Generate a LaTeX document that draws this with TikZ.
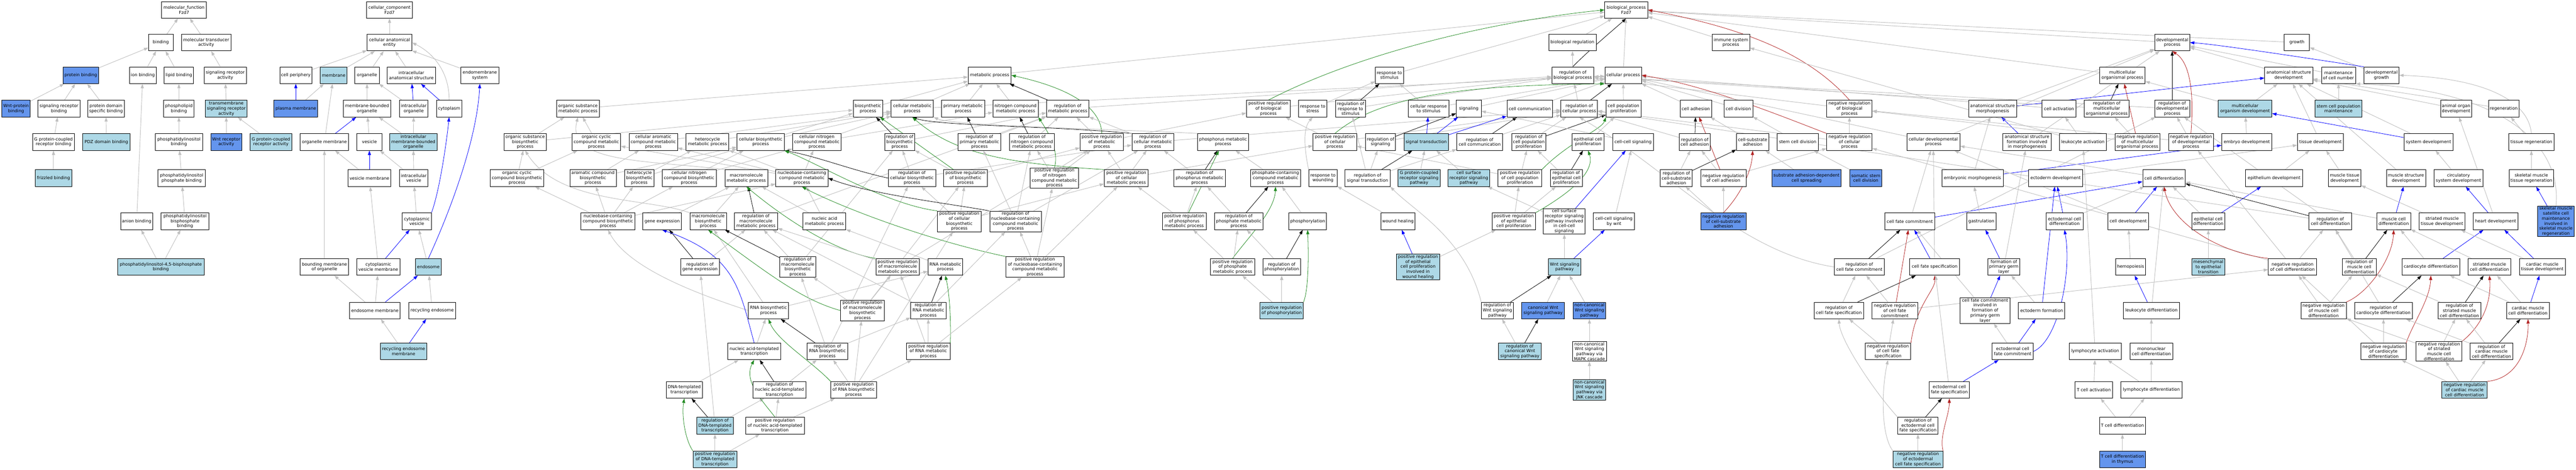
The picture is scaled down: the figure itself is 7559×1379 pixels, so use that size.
\documentclass[tikz,border=0pt]{standalone}
\usepackage{fontspec}
\setmainfont{DejaVu Sans}
\usetikzlibrary{arrows.meta,backgrounds}
\definecolor{lbc}{RGB}{173,216,230}
\definecolor{cbc}{RGB}{100,149,237}
\definecolor{egc}{RGB}{192,192,192}
\definecolor{ebc}{RGB}{0,0,255}
\definecolor{egrc}{RGB}{34,139,34}
\definecolor{erc}{RGB}{178,34,34}
\tikzset{
 wb/.style={draw=black,line width=1.2pt,fill=white,rectangle,align=center,minimum height=49pt,inner xsep=1pt,inner ysep=2pt,font=\fontsize{12.6}{14.7}\selectfont},
 lbb/.style={wb,fill=lbc},
 cbb/.style={wb,fill=cbc},
 edg/.style={line width=1.4pt,-{Triangle[length=13pt,width=9pt]}},
 sgray/.style={edg,color=egc},
 sblue/.style={edg,line width=1.2pt,color=ebc},
 sblack/.style={edg,line width=1.2pt,color=black},
 sgreen/.style={edg,line width=1.2pt,color=egrc},
 sred/.style={edg,line width=1.2pt,color=erc}
}
\newcommand{\nd}[6]{\node[#1,minimum width=#5pt] (#2) at (#3,#4) {#6};}
\newcommand{\eG}[2]{\draw[sgray] (#1) -- (#2);}
\newcommand{\eB}[2]{\draw[sblue] (#1) -- (#2);}
\newcommand{\eK}[2]{\draw[sblack] (#1) -- (#2);}
\newcommand{\eP}[2]{\draw[sgreen] (#1) -- (#2);}
\newcommand{\eN}[2]{\draw[sred] (#1) -- (#2);}
\begin{document}
\begin{tikzpicture}[x=1pt,y=-1pt]
\useasboundingbox (0,0) rectangle (7559,1379);
% ---------- molecular function
\nd{wb}{mf}{540}{29}{131}{molecular\_function\\Fzd7}
\nd{wb}{bind}{472}{125}{72}{binding}
\nd{wb}{mta}{605}{125}{145}{molecular transducer\\activity}
\nd{cbb}{pb}{237}{221}{104}{protein binding}
\nd{wb}{ionb}{419}{221}{79}{ion binding}
\nd{wb}{lipb}{525}{221}{86}{lipid binding}
\nd{wb}{sra}{661}{221}{123}{signaling receptor\\activity}
\nd{cbb}{wpb}{47}{319}{83}{Wnt-protein\\binding}
\nd{wb}{srb}{173}{319}{123}{signaling receptor\\binding}
\nd{wb}{pdsb}{311}{319}{107}{protein domain\\specific binding}
\nd{wb}{plb}{525}{319}{89}{phospholipid\\binding}
\nd{lbb}{tsra}{664}{319}{122}{transmembrane\\signaling receptor\\activity}
\nd{wb}{gpcrb}{157}{417}{123}{G protein-coupled\\receptor binding}
\nd{lbb}{pdz}{312}{417}{138}{PDZ domain binding}
\nd{wb}{pib}{525}{417}{139}{phosphatidylinositol\\binding}
\nd{cbb}{wra}{664}{417}{91}{Wnt receptor\\activity}
\nd{lbb}{gpcra}{795}{417}{123}{G protein-coupled\\receptor activity}
\nd{lbb}{fzb}{157}{523}{107}{frizzled binding}
\nd{wb}{pipb}{533}{523}{139}{phosphatidylinositol\\phosphate binding}
\nd{wb}{anb}{401}{650}{94}{anion binding}
\nd{wb}{pip2b}{543}{650}{140}{phosphatidylinositol\\bisphosphate\\binding}
\nd{lbb}{pi45}{472}{784}{254}{phosphatidylinositol-4,5-bisphosphate\\binding}
% ---------- cellular component
\nd{wb}{cc}{1143}{29}{134}{cellular\_component\\Fzd7}
\nd{wb}{cae}{1143}{125}{131}{cellular anatomical\\entity}
\nd{wb}{cper}{868}{221}{94}{cell periphery}
\nd{lbb}{memb}{979}{221}{78}{membrane}
\nd{wb}{org}{1077}{221}{72}{organelle}
\nd{wb}{ias}{1207}{221}{141}{intracellular\\anatomical structure}
\nd{wb}{ems}{1408}{221}{111}{endomembrane\\system}
\nd{cbb}{pm}{868}{319}{128}{plasma membrane}
\nd{wb}{mbo}{1077}{319}{139}{membrane-bounded\\organelle}
\nd{wb}{io}{1214}{319}{84}{intracellular\\organelle}
\nd{wb}{cyto}{1318}{319}{75}{cytoplasm}
\nd{wb}{om}{952}{417}{142}{organelle membrane}
\nd{wb}{ves}{1084}{417}{74}{vesicle}
\nd{lbb}{imbo}{1213}{417}{138}{intracellular\\membrane-bounded\\organelle}
\nd{wb}{vm}{1084}{523}{126}{vesicle membrane}
\nd{wb}{iv}{1214}{523}{84}{intracellular\\vesicle}
\nd{wb}{cv}{1223}{650}{85}{cytoplasmic\\vesicle}
\nd{wb}{bmo}{952}{784}{142}{bounding membrane\\of organelle}
\nd{wb}{cvm}{1110}{784}{127}{cytoplasmic\\vesicle membrane}
\nd{lbb}{endo}{1257}{784}{76}{endosome}
\nd{wb}{endom}{1100}{912}{148}{endosome membrane}
\nd{wb}{recend}{1268}{912}{137}{recycling endosome}
\nd{lbb}{recm}{1184}{1032}{136}{recycling endosome\\membrane}
% ---------- metabolism
\nd{wb}{osmp}{1696}{319}{126}{organic substance\\metabolic process}
\nd{wb}{biosyn}{2547}{319}{87}{biosynthetic\\process}
\nd{wb}{osbp}{1541}{417}{124}{organic substance\\biosynthetic\\process}
\nd{wb}{occmp}{1750}{417}{142}{organic cyclic\\compound metabolic\\process}
\nd{wb}{cacmp}{1917}{417}{142}{cellular aromatic\\compound metabolic\\process}
\nd{wb}{hmp}{2076}{417}{126}{heterocycle\\metabolic process}
\nd{wb}{cbp}{2232}{417}{139}{cellular biosynthetic\\process}
\nd{wb}{cncmp}{2397}{417}{142}{cellular nitrogen\\compound metabolic\\process}
\nd{wb}{occbp}{1517}{523}{158}{organic cyclic\\compound biosynthetic\\process}
\nd{wb}{acbp}{1740}{523}{136}{aromatic compound\\biosynthetic\\process}
\nd{wb}{hbp}{1876}{523}{86}{heterocycle\\biosynthetic\\process}
\nd{wb}{cncbp}{2022}{523}{159}{cellular nitrogen\\compound biosynthetic\\process}
\nd{wb}{mmp}{2190}{523}{125}{macromolecule\\metabolic process}
\nd{wb}{nccmp}{2353}{523}{153}{nucleobase-containing\\compound metabolic\\process}
\nd{wb}{nccbp}{1784}{650}{158}{nucleobase-containing\\compound biosynthetic\\process}
\nd{wb}{gexp}{1943}{650}{113}{gene expression}
\nd{wb}{mbp}{2078}{650}{107}{macromolecule\\biosynthetic\\process}
\nd{wb}{rmmp}{2218}{650}{127}{regulation of\\macromolecule\\metabolic process}
\nd{wb}{namp}{2419}{650}{126}{nucleic acid\\metabolic process}
\nd{wb}{rgexp}{2054}{784}{113}{regulation of\\gene expression}
\nd{wb}{rmbp}{2341}{784}{106}{regulation of\\macromolecule\\biosynthetic\\process}
\nd{wb}{rnabp}{2255}{912}{118}{RNA biosynthetic\\process}
\nd{wb}{prmbp}{2531}{912}{128}{positive regulation\\of macromolecule\\biosynthetic\\process}
\nd{wb}{natt}{2213}{1032}{155}{nucleic acid-templated\\transcription}
\nd{wb}{rrnabp}{2428}{1032}{119}{regulation of\\RNA biosynthetic\\process}
\nd{wb}{dtt}{2008}{1145}{106}{DNA-templated\\transcription}
\nd{wb}{rnatt}{2287}{1145}{155}{regulation of\\nucleic acid-templated\\transcription}
\nd{wb}{prrnabp}{2505}{1145}{134}{positive regulation\\of RNA biosynthetic\\process}
\nd{lbb}{rdtt}{2098}{1250}{107}{regulation of\\DNA-templated\\transcription}
\nd{wb}{pnatt}{2274}{1250}{172}{positive regulation\\of nucleic acid-templated\\transcription}
\nd{lbb}{pdtt}{2098}{1349}{129}{positive regulation\\of DNA-templated\\transcription}
\nd{wb}{mp}{2904}{221}{126}{metabolic process}
\nd{wb}{cmp}{2677}{319}{124}{cellular metabolic\\process}
\nd{wb}{pmp}{2826}{319}{127}{primary metabolic\\process}
\nd{wb}{ncmp}{2980}{319}{133}{nitrogen compound\\metabolic process}
\nd{wb}{rmp}{3133}{319}{124}{regulation of\\metabolic process}
\nd{wb}{prbp}{3722}{319}{128}{positive regulation\\of biological\\process}
\nd{wb}{rbiosyn}{2640}{417}{88}{regulation of\\biosynthetic\\process}
\nd{wb}{rpmp}{2874}{417}{126}{regulation of\\primary metabolic\\process}
\nd{wb}{rncmp}{3028}{417}{132}{regulation of\\nitrogen compound\\metabolic process}
\nd{wb}{prmp}{3233}{417}{127}{positive regulation\\of metabolic\\process}
\nd{wb}{rcmp}{3383}{417}{123}{regulation of\\cellular metabolic\\process}
\nd{wb}{phmp}{3589}{417}{150}{phosphorus metabolic\\process}
\nd{wb}{rcbp}{2676}{523}{139}{regulation of\\cellular biosynthetic\\process}
\nd{wb}{prbiosyn}{2833}{523}{128}{positive regulation\\of biosynthetic\\process}
\nd{wb}{prncmp}{3094}{523}{142}{positive regulation\\of nitrogen\\compound metabolic\\process}
\nd{wb}{prcmp}{3305}{523}{129}{positive regulation\\of cellular\\metabolic process}
\nd{wb}{rphmp}{3520}{523}{151}{regulation of\\phosphorus metabolic\\process}
\nd{wb}{pccmp}{3743}{523}{147}{phosphate-containing\\compound metabolic\\process}
\nd{wb}{prcbp}{2815}{650}{129}{positive regulation\\of cellular\\biosynthetic\\process}
\nd{wb}{rnccmp}{2980}{650}{152}{regulation of\\nucleobase-containing\\compound metabolic\\process}
\nd{wb}{prphmp}{3475}{650}{128}{positive regulation\\of phosphorus\\metabolic process}
\nd{wb}{rphtmp}{3635}{650}{143}{regulation of\\phosphate metabolic\\process}
\nd{wb}{prmmp}{2634}{784}{128}{positive regulation\\of macromolecule\\metabolic process}
\nd{wb}{rnamp}{2774}{784}{102}{RNA metabolic\\process}
\nd{wb}{prnccmp}{3037}{784}{171}{positive regulation\\of nucleobase-containing\\compound metabolic\\process}
\nd{wb}{prphtmp}{3617}{784}{129}{positive regulation\\of phosphate\\metabolic process}
\nd{wb}{rphos}{3761}{784}{110}{regulation of\\phosphorylation}
\nd{wb}{rrnamp}{2724}{912}{103}{regulation of\\RNA metabolic\\process}
\nd{lbb}{prphos}{3761}{912}{127}{positive regulation\\of phosphorylation}
\nd{wb}{prrnamp}{2724}{1032}{128}{positive regulation\\of RNA metabolic\\process}
% ---------- biological process
\nd{wb}{bp}{4772}{29}{126}{biological\_process\\Fzd7}
\nd{wb}{breg}{4614}{125}{139}{biological regulation}
\nd{wb}{isp}{5079}{125}{110}{immune system\\process}
\nd{wb}{dp}{6374}{125}{103}{developmental\\process}
\nd{wb}{growth}{6740}{125}{74}{growth}
\nd{wb}{rts}{4077}{221}{82}{response to\\stimulus}
\nd{wb}{rbp}{4615}{221}{123}{regulation of\\biological process}
\nd{wb}{cp}{4763}{221}{107}{cellular process}
\nd{wb}{mop}{6228}{221}{133}{multicellular\\organismal process}
\nd{wb}{asd}{6716}{221}{141}{anatomical structure\\development}
\nd{wb}{mcn}{6862}{221}{100}{maintenance\\of cell number}
\nd{wb}{devg}{6988}{221}{103}{developmental\\growth}
\nd{wb}{rtstress}{3852}{319}{82}{response to\\stress}
\nd{wb}{rrts}{3963}{319}{89}{regulation of\\response to\\stimulus}
\nd{wb}{crts}{4192}{319}{118}{cellular response\\to stimulus}
\nd{wb}{sig}{4310}{319}{73}{signaling}
\nd{wb}{ccomm}{4489}{319}{134}{cell communication}
\nd{wb}{rcp}{4634}{319}{107}{regulation of\\cellular process}
\nd{wb}{cpp}{4764}{319}{102}{cell population\\proliferation}
\nd{wb}{cadh}{4976}{319}{92}{cell adhesion}
\nd{wb}{cdiv}{5101}{319}{84}{cell division}
\nd{wb}{nrbp}{5427}{319}{133}{negative regulation\\of biological\\process}
\nd{wb}{asm}{5847}{319}{141}{anatomical structure\\morphogenesis}
\nd{wb}{cact}{6042}{319}{99}{cell activation}
\nd{wb}{rmop}{6182}{319}{132}{regulation of\\multicellular\\organismal process}
\nd{wb}{rdp}{6374}{319}{103}{regulation of\\developmental\\process}
\nd{lbb}{mod}{6588}{319}{157}{multicellular\\organism development}
\nd{lbb}{scpm}{6862}{319}{138}{stem cell population\\maintenance}
\nd{wb}{aod}{7207}{319}{91}{animal organ\\development}
\nd{wb}{regen}{7347}{319}{89}{regeneration}
\nd{wb}{prcp}{3917}{417}{128}{positive regulation\\of cellular\\process}
\nd{wb}{rsig}{4051}{417}{88}{regulation of\\signaling}
\nd{lbb}{st}{4185}{417}{130}{signal transduction}
\nd{wb}{rcc}{4342}{417}{134}{regulation of\\cell communication}
\nd{wb}{rcpp}{4486}{417}{101}{regulation of\\cell population\\proliferation}
\nd{wb}{ecp}{4660}{417}{94}{epithelial cell\\proliferation}
\nd{wb}{ccs}{4792}{417}{120}{cell-cell signaling}
\nd{wb}{rcadh}{4973}{417}{90}{regulation of\\cell adhesion}
\nd{wb}{csa}{5143}{417}{95}{cell-substrate\\adhesion}
\nd{wb}{scd}{5275}{417}{121}{stem cell division}
\nd{wb}{nrcp}{5427}{417}{133}{negative regulation\\of cellular\\process}
\nd{wb}{cdevp}{5673}{417}{156}{cellular developmental\\process}
\nd{wb}{asfm}{5948}{417}{141}{anatomical structure\\formation involved\\in morphogenesis}
\nd{wb}{lact}{6112}{417}{138}{leukocyte activation}
\nd{wb}{nrmop}{6272}{417}{132}{negative regulation\\of multicellular\\organismal process}
\nd{wb}{nrdp}{6429}{417}{132}{negative regulation\\of developmental\\process}
\nd{wb}{embd}{6593}{417}{147}{embryo development}
\nd{wb}{tisd}{6809}{417}{135}{tissue development}
\nd{wb}{sysd}{7126}{417}{144}{system development}
\nd{wb}{tisr}{7428}{417}{132}{tissue regeneration}
\nd{wb}{rtw}{3882}{523}{83}{response to\\wounding}
\nd{wb}{rst}{4013}{523}{132}{regulation of\\signal transduction}
\nd{lbb}{gpcrsp}{4164}{523}{123}{G protein-coupled\\receptor signaling\\pathway}
\nd{lbb}{csrsp}{4310}{523}{123}{cell surface\\receptor signaling\\pathway}
\nd{wb}{prcpp}{4460}{523}{128}{positive regulation\\of cell population\\proliferation}
\nd{wb}{recp}{4596}{523}{94}{regulation of\\epithelial cell\\proliferation}
\nd{wb}{rcsa}{4919}{523}{94}{regulation of\\cell-substrate\\adhesion}
\nd{wb}{nrcadh}{5057}{523}{133}{negative regulation\\of cell adhesion}
\nd{cbb}{sadcs}{5301}{523}{203}{substrate adhesion-dependent\\cell spreading}
\nd{cbb}{sscd}{5475}{523}{93}{somatic stem\\cell division}
\nd{wb}{embm}{5788}{523}{180}{embryonic morphogenesis}
\nd{wb}{ectd}{6032}{523}{159}{ectoderm development}
\nd{wb}{cdiff}{6350}{523}{125}{cell differentiation}
\nd{wb}{epid}{6673}{523}{167}{epithelium development}
\nd{wb}{mtd}{6880}{523}{96}{muscle tissue\\development}
\nd{wb}{msd}{7060}{523}{115}{muscle structure\\development}
\nd{wb}{csd}{7214}{523}{144}{circulatory\\system development}
\nd{wb}{smtr}{7428}{523}{131}{skeletal muscle\\tissue regeneration}
\nd{wb}{phos}{3837}{650}{111}{phosphorylation}
\nd{wb}{wh}{4102}{650}{101}{wound healing}
\nd{wb}{prepc}{4442}{650}{126}{positive regulation\\of epithelial\\cell proliferation}
\nd{wb}{csrspccs}{4590}{650}{123}{cell surface\\receptor signaling\\pathway involved\\in cell-cell\\signaling}
\nd{wb}{ccsw}{4736}{650}{121}{cell-cell signaling\\by wnt}
\nd{cbb}{nrcsa}{5057}{650}{133}{negative regulation\\of cell-substrate\\adhesion}
\nd{wb}{cfc}{5604}{650}{146}{cell fate commitment}
\nd{wb}{gast}{5814}{650}{85}{gastrulation}
\nd{wb}{ectcd}{6058}{650}{108}{ectodermal cell\\differentiation}
\nd{wb}{cdev}{6245}{650}{118}{cell development}
\nd{wb}{epcd}{6480}{650}{98}{epithelial cell\\differentiation}
\nd{wb}{rcd}{6838}{650}{125}{regulation of\\cell differentiation}
\nd{wb}{mcd}{7024}{650}{99}{muscle cell\\differentiation}
\nd{wb}{smtd}{7166}{650}{134}{striated muscle\\tissue development}
\nd{wb}{heart}{7323}{650}{131}{heart development}
\nd{cbb}{smsc}{7500}{650}{108}{skeletal muscle\\satellite cell\\maintenance\\involved in\\skeletal muscle\\regeneration}
\nd{lbb}{prepcwh}{4161}{784}{127}{positive regulation\\of epithelial\\cell proliferation\\involved in\\wound healing}
\nd{lbb}{wsp}{4591}{784}{94}{Wnt signaling\\pathway}
\nd{wb}{rcfc}{5456}{784}{147}{regulation of\\cell fate commitment}
\nd{wb}{cfs}{5677}{784}{146}{cell fate specification}
\nd{wb}{fpgl}{5880}{784}{94}{formation of\\primary germ\\layer}
\nd{wb}{hemo}{6252}{784}{88}{hemopoiesis}
\nd{lbb}{met}{6480}{784}{98}{mesenchymal\\to epithelial\\transition}
\nd{wb}{nrcd}{6727}{784}{142}{negative regulation\\of cell differentiation}
\nd{wb}{rmcd}{6923}{784}{100}{regulation of\\muscle cell\\differentiation}
\nd{wb}{cardd}{7133}{784}{170}{cardiocyte differentiation}
\nd{wb}{smcd}{7305}{784}{126}{striated muscle\\cell differentiation}
\nd{wb}{cmtd}{7460}{784}{135}{cardiac muscle\\tissue development}
\nd{wb}{rwsp}{4394}{912}{94}{regulation of\\Wnt signaling\\pathway}
\nd{cbb}{cwsp}{4528}{912}{125}{canonical Wnt\\signaling pathway}
\nd{cbb}{ncwsp}{4664}{912}{96}{non-canonical\\Wnt signaling\\pathway}
\nd{wb}{rcfs}{5396}{912}{144}{regulation of\\cell fate specification}
\nd{wb}{nrcfc}{5560}{912}{134}{negative regulation\\of cell fate\\commitment}
\nd{wb}{cfcpgl}{5825}{912}{147}{cell fate commitment\\involved in\\formation of\\primary germ\\layer}
\nd{wb}{ectf}{5991}{912}{136}{ectoderm formation}
\nd{wb}{leukd}{6313}{912}{166}{leukocyte differentiation}
\nd{wb}{nrmcd}{6818}{912}{133}{negative regulation\\of muscle cell\\differentiation}
\nd{wb}{rcardd}{6994}{912}{170}{regulation of\\cardiocyte differentiation}
\nd{wb}{rsmcd}{7217}{912}{126}{regulation of\\striated muscle\\cell differentiation}
\nd{wb}{cmcd}{7418}{912}{125}{cardiac muscle\\cell differentiation}
\nd{lbb}{rcwsp}{4460}{1032}{126}{regulation of\\canonical Wnt\\signaling pathway}
\nd{wb}{ncmapk}{4664}{1032}{100}{non-canonical\\Wnt signaling\\pathway via\\MAPK cascade}
\nd{wb}{nrcfs}{5540}{1032}{134}{negative regulation\\of cell fate\\specification}
\nd{wb}{ectcfc}{5906}{1032}{121}{ectodermal cell\\fate commitment}
\nd{wb}{lymact}{6148}{1032}{152}{lymphocyte activation}
\nd{wb}{monod}{6313}{1032}{125}{mononuclear\\cell differentiation}
\nd{wb}{nrcardd}{6994}{1032}{132}{negative regulation\\of cardiocyte\\differentiation}
\nd{wb}{nrsmcd}{7157}{1032}{134}{negative regulation\\of striated\\muscle cell\\differentiation}
\nd{wb}{rcmcd}{7311}{1032}{125}{regulation of\\cardiac muscle\\cell differentiation}
\nd{lbb}{ncjnk}{4664}{1145}{96}{non-canonical\\Wnt signaling\\pathway via\\JNK cascade}
\nd{wb}{ectcfs}{5720}{1145}{118}{ectodermal cell\\fate specification}
\nd{wb}{tcact}{6144}{1145}{110}{T cell activation}
\nd{wb}{lymd}{6313}{1145}{179}{lymphocyte differentiation}
\nd{lbb}{nrcmcd}{7232}{1145}{133}{negative regulation\\of cardiac muscle\\cell differentiation}
\nd{wb}{rectcfs}{5628}{1250}{118}{regulation of\\ectodermal cell\\fate specification}
\nd{wb}{tcd}{6228}{1250}{135}{T cell differentiation}
\nd{lbb}{nrectcfs}{5628}{1349}{146}{negative regulation\\of ectodermal\\cell fate specification}
\nd{cbb}{tcdt}{6228}{1349}{135}{T cell differentiation\\in thymus}
\begin{pgfonlayer}{background}
\fill[white] (0,0) rectangle (7559,1379);
% MF
\eG{bind}{mf}\eG{mta}{mf}\eG{pb}{bind}\eG{ionb}{bind}\eG{lipb}{bind}\eG{sra}{mta}
\eG{wpb}{pb}\eG{srb}{pb}\eG{pdsb}{pb}\eG{plb}{lipb}\eG{tsra}{sra}\eG{gpcrb}{srb}
\eG{pdz}{pdsb}\eG{pib}{plb}\eG{wra}{tsra}\eG{gpcra}{tsra}\eG{fzb}{gpcrb}\eG{pipb}{pib}
\eG{anb}{ionb}\eG{pip2b}{pipb}\eG{pi45}{anb}\eG{pi45}{pip2b}
% CC
\eG{cae}{cc}\eG{cper}{cae}\eG{memb}{cae}\eG{org}{cae}\eG{ias}{cae}\eG{ems}{cae}
\draw[sgray] (cyto.north) .. controls (1318,200) and (1260,150) .. (cae.east);
\eB{cyto}{ias}\eB{pm}{cper}\eG{pm}{memb}\eG{mbo}{org}\eG{io}{org}\eB{io}{ias}
\eG{om}{memb}\eB{om}{mbo}\eG{ves}{mbo}\eG{imbo}{mbo}\eG{imbo}{io}
\eG{vm}{om}\eB{vm}{ves}\eG{iv}{ves}\eG{iv}{imbo}\eG{cv}{iv}
\draw[sblue] (cv.north east) .. controls (1290,560) and (1310,420) .. (cyto.south);
\eG{bmo}{om}\eG{cvm}{vm}\eB{cvm}{cv}\eG{endo}{cv}
\draw[sblue] (endo.north) .. controls (1330,600) and (1400,400) .. (ems.south);
\eG{endom}{bmo}\eG{endom}{cvm}\eB{endom}{endo}\eG{recend}{endo}\eG{recm}{endom}\eB{recm}{recend}
% metabolism
\eG{osmp}{mp}\eG{osbp}{osmp}\eG{osbp}{biosyn}\eG{occmp}{osmp}\eG{cacmp}{cmp}\eG{hmp}{cmp}
\eG{cbp}{biosyn}\eG{cbp}{cmp}\eG{cncmp}{cmp}\eG{cncmp}{ncmp}
\eG{occbp}{osbp}\eG{occbp}{occmp}\eG{acbp}{cacmp}\eG{acbp}{cbp}\eG{hbp}{hmp}\eG{hbp}{cbp}
\eG{cncbp}{cbp}\eG{cncbp}{cncmp}
\draw[sgray] (mmp.north west) .. controls (1900,470) and (1660,480) .. (osmp.south);
\eG{nccmp}{occmp}\eG{nccmp}{cacmp}\eG{nccmp}{hmp}\eG{nccmp}{cncmp}
\eG{nccbp}{occbp}\eG{nccbp}{acbp}\eG{nccbp}{hbp}\eG{nccbp}{cncbp}\eG{nccbp}{nccmp}
\eG{gexp}{mmp}\eG{mbp}{mmp}
\draw[sgray] (mbp.north west) .. controls (1900,580) and (1640,600) .. (osbp.south);
\eK{rmmp}{mmp}\eG{rmmp}{rmp}\eG{namp}{nccmp}\eG{namp}{mmp}
\eK{rgexp}{gexp}\eG{rgexp}{rmmp}
\draw[sgray] (rnabp.west) .. controls (2100,880) and (1850,800) .. (nccbp.south);
\eG{rnabp}{rnamp}\eG{rnabp}{mbp}
\eG{natt}{rnabp}
\draw[sblue] (natt.north) .. controls (2170,850) and (2160,750) .. (gexp.south);
\eK{rmbp}{mbp}\eG{rmbp}{rmmp}\eG{rmbp}{rbiosyn}
\draw[sgreen] (prmbp.west) .. controls (2350,880) and (2250,800) .. (mbp.south);
\eG{prmbp}{rmbp}\eG{prmbp}{prbiosyn}\eG{prmbp}{prmmp}
\eK{rrnabp}{rnabp}\eG{rrnabp}{rmbp}\eG{rrnabp}{rrnamp}\eG{rrnabp}{rcbp}
\eG{dtt}{natt}\eK{rnatt}{natt}\eG{rnatt}{rrnabp}
\draw[sgreen] (prrnabp.north west) .. controls (2380,1060) and (2280,1000) .. (rnabp.south);
\eG{prrnabp}{rrnabp}\eG{prrnabp}{prrnamp}\eG{prrnabp}{prmbp}\eG{prrnabp}{prcbp}
\eK{rdtt}{dtt}\eG{rdtt}{rnatt}\eG{rdtt}{rgexp}
\draw[sgreen] (pnatt.north) .. controls (2240,1180) and (2180,1120) .. (natt.south);
\eG{pnatt}{rnatt}\eG{pnatt}{prrnabp}
\draw[sgreen] (pdtt.north west) .. controls (2010,1290) and (2000,1220) .. (dtt.south);
\eG{pdtt}{rdtt}\eG{pdtt}{pnatt}
\eG{mp}{bp}\eG{biosyn}{mp}\eG{cmp}{mp}\eG{cmp}{cp}\eG{pmp}{mp}\eG{ncmp}{mp}
\eK{rmp}{mp}\eG{rmp}{rbp}
\draw[sgreen] (prbp.north) .. controls (4000,150) and (4400,60) .. (bp.west);
\eG{prbp}{rbp}
\eK{rbiosyn}{biosyn}\eG{rbiosyn}{rmp}\eK{rpmp}{pmp}\eG{rpmp}{rmp}\eK{rncmp}{ncmp}\eG{rncmp}{rmp}
\draw[sgreen] (prmp.north) .. controls (3230,300) and (3100,250) .. (mp.east);
\eG{prmp}{rmp}\eG{prmp}{prbp}
\draw[sblack] (rcmp.north west) .. controls (3100,370) and (2750,370) .. (cmp.south);
\eG{rcmp}{rmp}\eG{rcmp}{rcp}
\draw[sgray] (phmp.north west) .. controls (3300,380) and (2800,370) .. (cmp.south east);
\draw[sblack] (rcbp.west) .. controls (2500,500) and (2400,460) .. (cbp.south east);
\eG{rcbp}{rbiosyn}\eG{rcbp}{rcmp}
\eP{prbiosyn}{biosyn}\eG{prbiosyn}{rbiosyn}\eG{prbiosyn}{prmp}
\draw[sgreen] (prncmp.north) .. controls (3110,440) and (3070,380) .. (ncmp.south east);
\eG{prncmp}{rncmp}\eG{prncmp}{prmp}
\draw[sgreen] (prcmp.north west) .. controls (2950,480) and (2800,450) .. (cmp.south);
\eG{prcmp}{rcmp}\eG{prcmp}{prmp}\eG{prcmp}{prcp}
\eK{rphmp}{phmp}\eG{rphmp}{rcmp}\eG{pccmp}{phmp}
\draw[sgreen] (prcbp.north west) .. controls (2600,600) and (2400,480) .. (cbp.south east);
\eG{prcbp}{rcbp}\eG{prcbp}{prbiosyn}\eG{prcbp}{prcmp}
\draw[sblack] (rnccmp.north west) .. controls (2800,600) and (2550,570) .. (nccmp.east);
\eG{rnccmp}{rcmp}\eG{rnccmp}{rpmp}\eG{rnccmp}{rncmp}
\eP{prphmp}{phmp}\eG{prphmp}{rphmp}\eG{prphmp}{prcmp}
\eK{rphtmp}{pccmp}\eG{rphtmp}{rphmp}
\draw[sgreen] (prmmp.north west) .. controls (2450,740) and (2300,640) .. (mmp.south);
\eG{prmmp}{rmmp}\eG{prmmp}{prmp}
\eG{rnamp}{namp}
\draw[sgreen] (prnccmp.north west) .. controls (2700,700) and (2450,600) .. (nccmp.south);
\eG{prnccmp}{rnccmp}\eG{prnccmp}{prcmp}\eG{prnccmp}{prncmp}
\draw[sgreen] (prphtmp.north) .. controls (3660,700) and (3740,620) .. (pccmp.south);
\eG{prphtmp}{rphtmp}\eG{prphtmp}{prphmp}
\eK{rphos}{phos}\eG{rphos}{rphtmp}
\eK{rrnamp}{rnamp}\eG{rrnamp}{rnccmp}\eG{rrnamp}{rmmp}
\eG{prphos}{prphtmp}\eG{prphos}{rphos}
\draw[sgreen] (prphos.north east) .. controls (3840,850) and (3840,750) .. (phos.south);
\draw[sgreen] (prrnamp.north east) .. controls (2790,980) and (2790,880) .. (rnamp.south);
\eG{prrnamp}{rrnamp}\eG{prrnamp}{prmmp}\eG{prrnamp}{prnccmp}
\eG{phos}{pccmp}
% BP top
\eG{breg}{bp}
\draw[sblack] (rbp.north) .. controls (4660,150) and (4720,100) .. (bp.south);
\eG{rbp}{breg}\eG{cp}{bp}\eG{rts}{bp}\eG{isp}{bp}\eG{dp}{bp}\eG{growth}{bp}\eG{mop}{bp}
\draw[sred] (nrbp.north) .. controls (5300,150) and (5100,80) .. (bp.east);
\eG{rtstress}{rts}\eK{rrts}{rts}\eG{rrts}{rbp}\eG{crts}{rts}\eG{crts}{cp}\eG{sig}{cp}
\eG{ccomm}{cp}\eG{rcp}{rbp}\eK{rcp}{cp}\eG{cpp}{cp}\eG{cadh}{cp}
\eG{prcp}{prbp}\eG{prcp}{rcp}
\draw[sgreen] (prcp.north) .. controls (4050,280) and (4300,250) .. (cp.south west);
\eK{rsig}{sig}\eG{rsig}{rcp}\eB{st}{crts}\eB{st}{sig}\eB{st}{ccomm}
\eK{rcc}{ccomm}\eG{rcc}{rcp}\eK{rcpp}{cpp}\eG{rcpp}{rcp}\eG{ecp}{cpp}\eG{ccs}{sig}
\eK{rcadh}{cadh}\eG{rcadh}{rcp}
\draw[sgray] (rtw.north west) .. controls (3830,450) and (3820,380) .. (rtstress.south);
\eK{rst}{st}\eG{rst}{rsig}\eG{rst}{rcc}\eG{rst}{rrts}\eG{gpcrsp}{st}\eG{csrsp}{st}
\eG{prcpp}{rcpp}\eG{prcpp}{prcp}
\draw[sgreen] (prcpp.north east) .. controls (4600,420) and (4700,380) .. (cpp.south west);
\eK{recp}{ecp}\eG{recp}{rcpp}\eG{rcsa}{rcadh}\eK{rcsa}{csa}
\eG{nrcadh}{rcadh}\eN{nrcadh}{cadh}\eG{nrcadh}{nrcp}
\eG{wh}{rtw}\eG{prepc}{recp}\eG{prepc}{prcpp}
\draw[sgreen] (prepc.north east) .. controls (4620,560) and (4680,500) .. (ecp.south);
\eG{csrspccs}{csrsp}\eB{csrspccs}{ccs}\eG{ccsw}{ccs}
\eG{nrcsa}{rcsa}\eG{nrcsa}{nrcadh}
\draw[sred] (nrcsa.north) .. controls (5110,570) and (5140,500) .. (csa.south);
\eB{prepcwh}{wh}\eG{prepcwh}{prepc}\eG{wsp}{csrspccs}\eB{wsp}{ccsw}
\eK{rwsp}{wsp}
\draw[sgray] (rwsp.north west) .. controls (4300,700) and (4150,620) .. (rst.south east);
\eG{cwsp}{wsp}\eG{ncwsp}{wsp}\eG{rcwsp}{rwsp}\eK{rcwsp}{cwsp}
\eG{ncmapk}{ncwsp}\eG{ncjnk}{ncmapk}
% right part
\eG{cdiv}{cp}\eG{nrbp}{rbp}\eB{asm}{asd}\eG{asm}{dp}\eG{cact}{cp}
\eK{rmop}{mop}\eG{rmop}{rbp}\eG{csa}{cadh}\eG{scd}{cdiv}
\eG{nrcp}{nrbp}\eG{nrcp}{rcp}
\draw[sred] (nrcp.north west) .. controls (5200,330) and (5000,250) .. (cp.east);
\eG{cdevp}{cp}\eG{cdevp}{dp}\eB{asfm}{asm}\eG{asfm}{dp}
\eG{lact}{cact}\eG{lact}{isp}
\eG{nrmop}{rmop}\eG{nrmop}{nrbp}\eN{nrmop}{mop}
\eG{sadcs}{csa}\eG{sscd}{scd}\eG{embm}{asm}\eB{embm}{embd}\eG{ectd}{tisd}
\eG{cdiff}{cdevp}\eG{cfc}{cdevp}\eB{cfc}{cdiff}\eG{gast}{embm}
\eB{ectcd}{ectd}\eG{ectcd}{cdiff}\eG{cdev}{cdevp}\eB{cdev}{cdiff}
\eG{asd}{dp}\eG{mcn}{dp}\eG{devg}{growth}
\draw[sblue] (devg.north west) .. controls (6700,160) and (6500,130) .. (dp.east);
\eK{rdp}{dp}\eG{rdp}{rbp}\eG{mod}{asd}\eG{mod}{mop}\eG{scpm}{mcn}
\eG{aod}{asd}\eG{regen}{asd}
\eG{nrdp}{rdp}\eG{nrdp}{nrbp}
\draw[sred] (nrdp.north) .. controls (6440,250) and (6420,180) .. (dp.south);
\eG{embd}{mod}\eG{tisd}{asd}\eB{sysd}{mod}\eG{sysd}{asd}
\eG{tisr}{regen}
\draw[sgray] (tisr.north) .. controls (7420,300) and (7300,230) .. (devg.east);
\eG{epid}{tisd}\eG{mtd}{tisd}\eG{msd}{asd}\eG{csd}{sysd}\eG{smtr}{tisr}
\eG{epcd}{cdiff}\eB{epcd}{epid}\eK{rcd}{cdiff}\eG{rcd}{rdp}\eG{rcd}{rcp}
\eG{mcd}{cdiff}\eB{mcd}{msd}\eG{smtd}{mtd}\eB{heart}{csd}\eG{heart}{aod}
\eB{smsc}{smtr}
\draw[sgray] (smsc.north) .. controls (7520,400) and (7300,260) .. (mcn.south east);
\eK{rcfc}{cfc}\eG{rcfc}{rdp}
\draw[sgray] (rcfc.west) .. controls (5100,740) and (4900,500) .. (rcp.south);
\eB{cfs}{cfc}\eG{cfs}{cdevp}\eK{rcfs}{cfs}\eG{rcfs}{rcfc}
\eN{nrcfc}{cfc}\eG{nrcfc}{rcfc}\eG{nrcfc}{nrcd}
\eB{fpgl}{gast}\eG{fpgl}{asfm}\eB{cfcpgl}{fpgl}\eG{cfcpgl}{cfc}
\eG{ectf}{fpgl}\eB{ectf}{ectd}\eB{leukd}{hemo}\eG{leukd}{cdiff}\eG{hemo}{cdev}
\eG{nrcfs}{rcfs}\eG{nrcfs}{nrcfc}
\draw[sred] (nrcfs.north east) .. controls (5620,900) and (5680,850) .. (cfs.south);
\eG{ectcfc}{cfcpgl}\eB{ectcfc}{ectf}
\draw[sblue] (ectcfc.east) .. controls (6040,1000) and (6080,800) .. (ectcd.south);
\eG{lymact}{lact}\eG{monod}{leukd}\eB{ectcfs}{ectcfc}\eG{ectcfs}{cfs}
\eG{tcact}{lymact}\eG{lymd}{lymact}\eG{lymd}{monod}
\eK{rectcfs}{ectcfs}
\draw[sgray] (rectcfs.north west) .. controls (5500,1150) and (5400,1000) .. (rcfs.south);
\eG{tcd}{tcact}\eG{tcd}{lymd}
\eG{nrectcfs}{rectcfs}
\draw[sred] (nrectcfs.north east) .. controls (5690,1280) and (5720,1220) .. (ectcfs.south);
\draw[sgray] (nrectcfs.north west) .. controls (5520,1280) and (5520,1150) .. (nrcfs.south);
\eG{tcdt}{tcd}
\eG{met}{epcd}\eG{nrcd}{rcd}\eG{nrcd}{nrdp}\eG{nrcd}{nrcp}
\draw[sred] (nrcd.north west) .. controls (6500,740) and (6370,650) .. (cdiff.south);
\eK{rmcd}{mcd}\eG{rmcd}{rcd}\eG{cardd}{mcd}\eB{cardd}{heart}\eG{smcd}{mcd}
\eG{cmtd}{smtd}\eB{cmtd}{heart}
\eG{nrmcd}{rmcd}\eG{nrmcd}{nrcd}
\draw[sred] (nrmcd.north east) .. controls (6950,860) and (7020,760) .. (mcd.south);
\eK{rcardd}{cardd}\eG{rcardd}{rcd}\eG{rsmcd}{rmcd}\eK{rsmcd}{smcd}
\eG{cmcd}{cardd}\eG{cmcd}{smcd}\eB{cmcd}{cmtd}
\eG{nrcardd}{rcardd}\eG{nrcardd}{nrcd}
\draw[sred] (nrcardd.north east) .. controls (7080,950) and (7130,880) .. (cardd.south);
\eG{nrsmcd}{rsmcd}\eG{nrsmcd}{nrmcd}
\draw[sred] (nrsmcd.north east) .. controls (7290,950) and (7310,880) .. (smcd.south);
\eK{rcmcd}{cmcd}\eG{rcmcd}{rcardd}\eG{rcmcd}{rsmcd}
\eG{nrcmcd}{nrcardd}\eG{nrcmcd}{nrsmcd}\eG{nrcmcd}{rcmcd}
\draw[sred] (nrcmcd.north east) .. controls (7400,1110) and (7420,1000) .. (cmcd.south);
\end{pgfonlayer}
\end{tikzpicture}
\end{document}
